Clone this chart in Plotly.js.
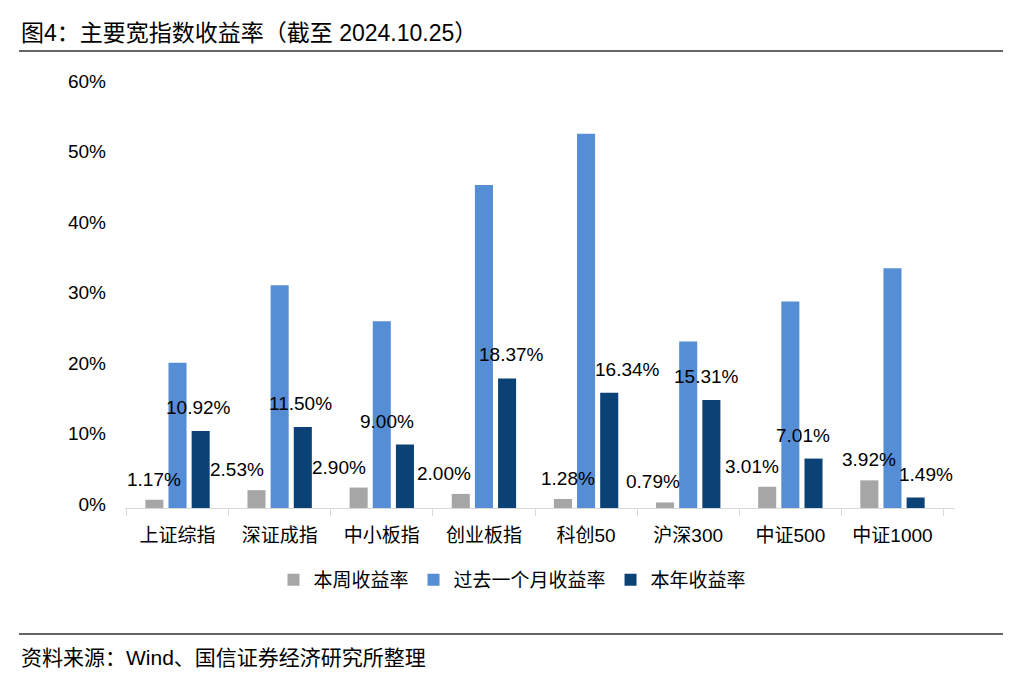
<!DOCTYPE html>
<html>
<head>
<meta charset="utf-8">
<script src="https://cdn.plot.ly/plotly-3.0.1.min.js"></script>
<style>
  html, body { margin: 0; padding: 0; background: #ffffff; }
  #chart { width: 1025px; height: 683px; }
</style>
</head>
<body>
<div id="chart"></div>
<script>
// ---- data ----
const categories = ['上证综指', '深证成指', '中小板指', '创业板指', '科创50', '沪深300', '中证500', '中证1000'];
const seriesNames = ['本周收益率', '过去一个月收益率', '本年收益率'];
const weekly = [1.17, 2.53, 2.90, 2.00, 1.28, 0.79, 3.01, 3.92];
const monthly = [20.6, 31.6, 26.5, 45.8, 53.1, 23.6, 29.3, 34.0];
const ytd = [10.92, 11.50, 9.00, 18.37, 16.34, 15.31, 7.01, 1.49];
const yTicks = [0, 10, 20, 30, 40, 50, 60];

// ---- layout config (label nudges in px, mimic hand-placed labels) ----
const weeklyNudgeX = [0, -19, -19, -16, 5, -12, -15, 0];
const ytdNudgeX = [-3, -3, -18, 4, 18, -5, -11, 10];
const colors = ['#a6a6a6', '#558ed5', '#0b4275'];
const FONT = '"Liberation Sans", Arial, "Noto Sans CJK SC", sans-serif';
const CJK = '"Liberation Sans", "Noto Sans CJK SC", sans-serif';

const margin = {l: 125, r: 70, t: 85, b: 175};
const plotW = 1025 - margin.l - margin.r;
const plotH = 683 - margin.t - margin.b;
const bargap = 0.32;
const slot = (plotW / categories.length) * (1 - bargap) / 3;

const traces = [weekly, monthly, ytd].map((vals, i) => ({
  type: 'bar',
  name: seriesNames[i],
  x: categories,
  y: vals,
  marker: {color: colors[i]},
  hoverinfo: 'x+y'
}));

const annotations = [];
categories.forEach((c, k) => {
  annotations.push({
    x: c, y: weekly[k], xref: 'x', yref: 'y',
    text: weekly[k].toFixed(2) + '%', showarrow: false,
    xshift: -slot + weeklyNudgeX[k], yshift: 8, yanchor: 'bottom',
    font: {family: FONT, size: 19, color: '#000'}
  });
  annotations.push({
    x: c, y: ytd[k], xref: 'x', yref: 'y',
    text: ytd[k].toFixed(2) + '%', showarrow: false,
    xshift: slot + ytdNudgeX[k], yshift: 11, yanchor: 'bottom',
    font: {family: FONT, size: 19, color: '#000'}
  });
});

// title & source
annotations.push({
  xref: 'paper', yref: 'paper', x: (19 - margin.l) / plotW, y: 1,
  xanchor: 'left', yanchor: 'middle', yshift: 52,
  text: '图4：主要宽指数收益率（截至 2024.10.25）', showarrow: false,
  font: {family: CJK, size: 23, color: '#000'}
});
annotations.push({
  xref: 'paper', yref: 'paper', x: (19 - margin.l) / plotW, y: 0,
  xanchor: 'left', yanchor: 'middle', yshift: -149,
  text: '资料来源：Wind、国信证券经济研究所整理', showarrow: false,
  font: {family: CJK, size: 21, color: '#000'}
});

const layout = {
  width: 1025, height: 683,
  margin: margin,
  paper_bgcolor: '#ffffff',
  plot_bgcolor: '#ffffff',
  barmode: 'group',
  bargap: bargap,
  bargroupgap: 0.22,
  showlegend: true,
  legend: {
    orientation: 'h', x: 0.5, xanchor: 'center', xref: 'container',
    y: 0.151, yanchor: 'middle', yref: 'container',
    font: {family: CJK, size: 19, color: '#000'},
    itemwidth: 30, traceorder: 'normal'
  },
  xaxis: {
    type: 'category',
    showline: true, linecolor: '#d9d9d9', linewidth: 1,
    ticks: 'outside', tickson: 'boundaries', ticklen: 7, tickcolor: '#d9d9d9',
    tickfont: {family: CJK, size: 19, color: '#000'},
    ticklabelstandoff: 10,
    showgrid: false, zeroline: false, fixedrange: true
  },
  yaxis: {
    range: [0, 60],
    tickvals: yTicks,
    ticktext: yTicks.map(v => v + '%'),
    showgrid: false, zeroline: false, showline: false,
    tickfont: {family: FONT, size: 19, color: '#000'},
    ticklabelstandoff: 18,
    ticklabelshift: -4,
    fixedrange: true
  },
  annotations: annotations,
  shapes: [
    {type: 'line', xref: 'paper', yref: 'paper',
     x0: (19 - margin.l) / plotW, x1: (1003 - margin.l) / plotW,
     y0: 1 + (margin.t - 51) / plotH, y1: 1 + (margin.t - 51) / plotH,
     line: {color: '#333333', width: 1.5}},
    {type: 'line', xref: 'paper', yref: 'paper',
     x0: (19 - margin.l) / plotW, x1: (1003 - margin.l) / plotW,
     y0: -(634 - (683 - margin.b)) / plotH, y1: -(634 - (683 - margin.b)) / plotH,
     line: {color: '#333333', width: 1.5}}
  ]
};

Plotly.newPlot('chart', traces, layout, {displayModeBar: false, staticPlot: true});
</script>
</body>
</html>
